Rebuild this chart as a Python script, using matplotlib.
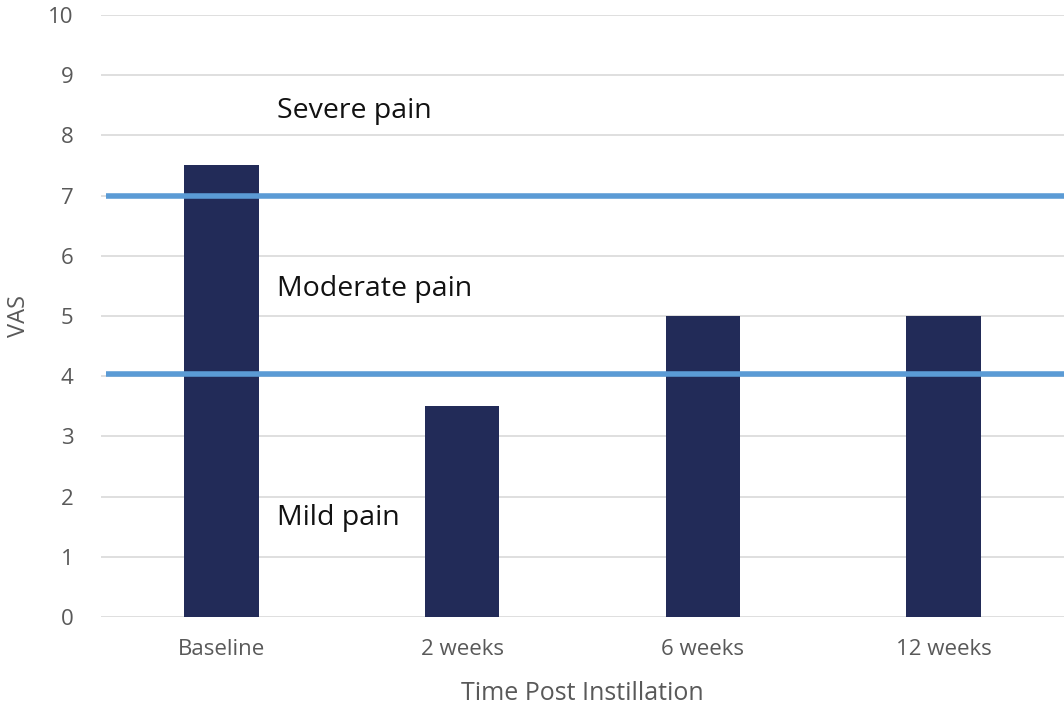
import numpy as np
from matplotlib import pyplot as plt

categories = ["Baseline", "2 weeks", "6 weeks", "12 weeks"]
vas = [7.5, 3.5, 5.0, 5.0]
thresholds = [7, 4.04]
zone_labels = ["Severe pain", "Moderate pain", "Mild pain"]
zone_label_y = [8.4, 5.45, 1.65]

plt.rcParams['font.family'] = ['Open Sans', 'DejaVu Sans']

fig = plt.figure(figsize=(10.64, 7.10), dpi=100)
ax = fig.add_axes([0.095, 0.131, 0.905, 0.848])

x = np.arange(len(categories))
ax.bar(x, vas, width=0.31, color="#222B58", zorder=2)

for t in thresholds:
    ax.plot([-0.48, 3.6], [t, t], color="#5B9BD5", linewidth=4, zorder=3,
            solid_capstyle="butt")

for lab, y in zip(zone_labels, zone_label_y):
    ax.text(0.23, y, lab, fontsize=20.5, color="#111111", va="center",
            ha="left")

ax.set_xlim(-0.5, 3.5)
ax.set_ylim(0, 10)
ax.set_yticks(range(0, 11))
ax.set_xticks(x)
ax.set_xticklabels(categories)
ax.tick_params(axis="both", length=0, labelsize=16, labelcolor="#595959")
ax.tick_params(axis="y", pad=20)
ax.tick_params(axis="x", pad=16)
ax.grid(axis="y", color="#D9D9D9", linewidth=1.2, zorder=0)
ax.set_axisbelow(True)
for s in ax.spines.values():
    s.set_visible(False)

ax.set_xlabel("Time Post Instillation", fontsize=18, color="#595959",
              labelpad=15)
ax.set_ylabel("VAS", fontsize=17, color="#595959", labelpad=12)

plt.savefig("out.png", dpi=100)
plt.close()
